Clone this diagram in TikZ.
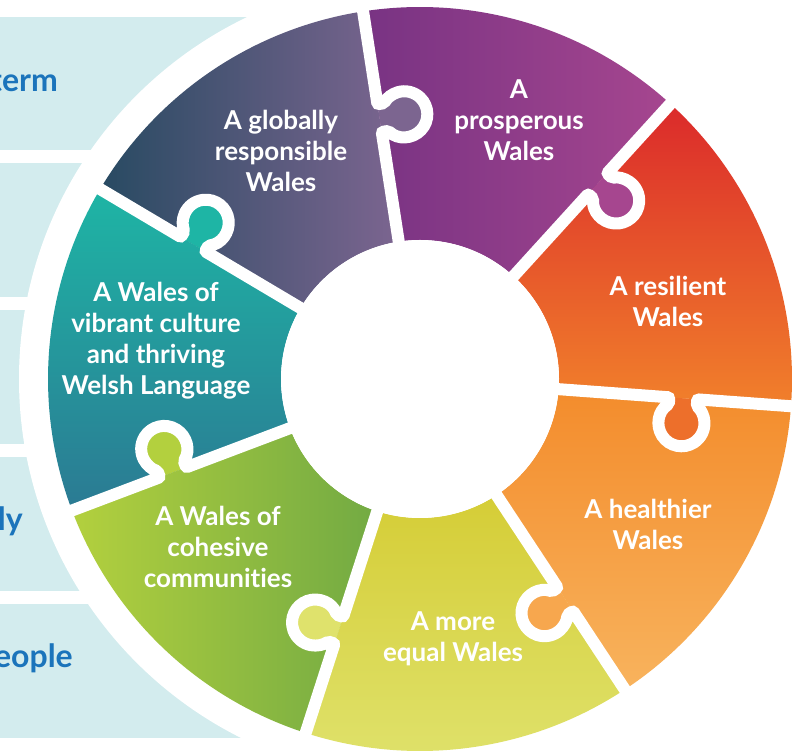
\documentclass[tikz,border=0pt]{standalone}
\usepackage{fontspec}
\setmainfont{Lato}[Ligatures=NoCommon]
\definecolor{panelcyan}{HTML}{D3ECEE}
\definecolor{wayblue}{HTML}{1B74BB}
\definecolor{globallyA}{HTML}{284A62}
\definecolor{globallyB}{HTML}{7C6590}
\definecolor{prosperousA}{HTML}{783383}
\definecolor{prosperousB}{HTML}{A6468F}
\definecolor{resilientA}{HTML}{DB2A2B}
\definecolor{resilientB}{HTML}{F1802B}
\definecolor{healthierA}{HTML}{F38C2C}
\definecolor{healthierB}{HTML}{F8B35D}
\definecolor{equalA}{HTML}{D5CD36}
\definecolor{equalB}{HTML}{DFE26C}
\definecolor{cohesiveA}{HTML}{B3D03E}
\definecolor{cohesiveB}{HTML}{72AA43}
\definecolor{tealA}{HTML}{1EB5A5}
\definecolor{tealB}{HTML}{2B7A93}
\begin{document}
\begin{tikzpicture}[x=1pt,y=1pt,
    panel/.style={fill=panelcyan},
    gap/.style={draw=white,line width=12pt,rounded corners=2pt},
    piecetext/.style={text=white,align=center,font=\bfseries\fontsize{26}{31}\selectfont},
    waytext/.style={text=wayblue,anchor=base east,inner sep=0pt,font=\bfseries\fontsize{32}{38}\selectfont}]
  \useasboundingbox (0,0) rectangle (798,752);
  % panels behind the wheel
  \fill[panel] (-5,602) rectangle (420,735);
  \fill[panel] (-5,455) rectangle (420,589);
  \fill[panel] (-5,308) rectangle (420,442);
  \fill[panel] (-5,161) rectangle (420,295);
  \fill[panel] (-5,14) rectangle (420,148);
  \node[waytext] (longterm) at (58,660) {term};
  \node[waytext] (ly) at (23,221) {ly};
  \node[waytext] (people) at (73,84) {eople};
  \coordinate (c) at (420,373);
  \fill[white] (c) circle (401);
  \begin{scope}[shift={(c)}]
    % the seven pieces
    \shade[top color=resilientA,bottom color=resilientB] (-4.2:139) -- (-4.2:372) arc[start angle=-4.2,end angle=47.7,radius=372] -- (47.7:139) arc[start angle=47.7,end angle=-4.2,radius=139] -- cycle;
    \shade[left color=prosperousA,right color=prosperousB] (47.7:139) -- (47.7:372) arc[start angle=47.7,end angle=98.8,radius=372] -- (98.8:139) arc[start angle=98.8,end angle=47.7,radius=139] -- cycle;
    \shade[left color=globallyA,right color=globallyB] (98.8:139) -- (98.8:372) arc[start angle=98.8,end angle=149.3,radius=372] -- (149.3:139) arc[start angle=149.3,end angle=98.8,radius=139] -- cycle;
    \shade[top color=tealA,bottom color=tealB] (149.3:139) -- (149.3:372) arc[start angle=149.3,end angle=200.7,radius=372] -- (200.7:139) arc[start angle=200.7,end angle=149.3,radius=139] -- cycle;
    \shade[left color=cohesiveA,right color=cohesiveB] (200.7:139) -- (200.7:372) arc[start angle=200.7,end angle=252.1,radius=372] -- (252.1:139) arc[start angle=252.1,end angle=200.7,radius=139] -- cycle;
    \shade[top color=equalA,bottom color=equalB] (252.1:139) -- (252.1:372) arc[start angle=252.1,end angle=303.4,radius=372] -- (303.4:139) arc[start angle=303.4,end angle=252.1,radius=139] -- cycle;
    \shade[top color=healthierA,bottom color=healthierB] (303.4:139) -- (303.4:372) arc[start angle=303.4,end angle=355.8,radius=372] -- (355.8:139) arc[start angle=355.8,end angle=303.4,radius=139] -- cycle;
    % knobs and gaps
    \begin{scope}[rotate=98.8]
      \fill[globallyB] (250,0) -- (250,-6.8) arc[start angle=127.6,end angle=412.4,radius=23] -- (278,0) -- cycle;
      \draw[gap] (130,0) -- (250,0) -- (250,-6.8) arc[start angle=127.6,end angle=412.4,radius=23] -- (278,0) -- (385,0);
    \end{scope}
    \begin{scope}[rotate=47.7]
      \fill[prosperousB] (250,0) -- (250,-6.8) arc[start angle=127.6,end angle=412.4,radius=23] -- (278,0) -- cycle;
      \draw[gap] (130,0) -- (250,0) -- (250,-6.8) arc[start angle=127.6,end angle=412.4,radius=23] -- (278,0) -- (385,0);
    \end{scope}
    \begin{scope}[rotate=-4.2]
      \fill[resilientB!80!resilientA] (250,0) -- (250,-6.8) arc[start angle=127.6,end angle=412.4,radius=23] -- (278,0) -- cycle;
      \draw[gap] (130,0) -- (250,0) -- (250,-6.8) arc[start angle=127.6,end angle=412.4,radius=23] -- (278,0) -- (385,0);
    \end{scope}
    \begin{scope}[rotate=-56.6]
      \fill[healthierB!70!healthierA] (250,0) -- (250,-6.8) arc[start angle=127.6,end angle=412.4,radius=23] -- (278,0) -- cycle;
      \draw[gap] (130,0) -- (250,0) -- (250,-6.8) arc[start angle=127.6,end angle=412.4,radius=23] -- (278,0) -- (385,0);
    \end{scope}
    \begin{scope}[rotate=-107.9]
      \fill[equalB] (250,0) -- (250,-6.8) arc[start angle=127.6,end angle=412.4,radius=23] -- (278,0) -- cycle;
      \draw[gap] (130,0) -- (250,0) -- (250,-6.8) arc[start angle=127.6,end angle=412.4,radius=23] -- (278,0) -- (385,0);
    \end{scope}
    \begin{scope}[rotate=-159.3]
      \fill[cohesiveA] (250,0) -- (250,-6.8) arc[start angle=127.6,end angle=412.4,radius=23] -- (278,0) -- cycle;
      \draw[gap] (130,0) -- (250,0) -- (250,-6.8) arc[start angle=127.6,end angle=412.4,radius=23] -- (278,0) -- (385,0);
    \end{scope}
    \begin{scope}[rotate=149.3]
      \fill[tealA] (250,0) -- (250,-6.8) arc[start angle=127.6,end angle=412.4,radius=23] -- (278,0) -- cycle;
      \draw[gap] (130,0) -- (250,0) -- (250,-6.8) arc[start angle=127.6,end angle=412.4,radius=23] -- (278,0) -- (385,0);
    \end{scope}
    \fill[white] (0,0) circle (139);
  \end{scope}
  % piece texts
  \node[piecetext] (globally) at (281,601) {A globally\\responsible\\Wales};
  \node[piecetext] (prosperous) at (519,632) {A\\prosperous\\Wales};
  \node[piecetext] (resilient) at (668,451) {A resilient\\Wales};
  \node[piecetext] (healthier) at (648,228) {A healthier\\Wales};
  \node[piecetext] (equal) at (453,113) {A more\\equal Wales};
  \node[piecetext] (cohesive) at (218,205) {A Wales of\\cohesive\\communities};
  \node[piecetext] (culture) at (156,411) {A Wales of\\vibrant culture\\and thriving\\Welsh Language};
\end{tikzpicture}
\end{document}
